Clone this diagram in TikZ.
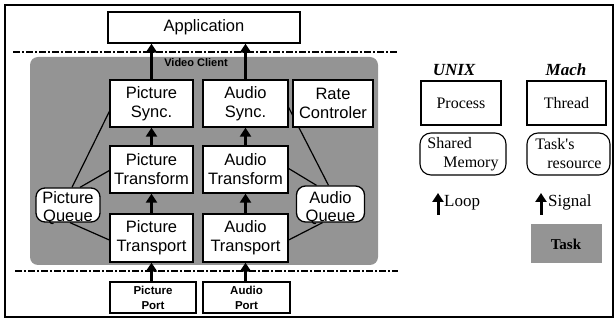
\documentclass[tikz,border=0pt]{standalone}
\usepackage{fontspec}
\setmainfont{Liberation Sans}
\newfontfamily\legendfont{Liberation Serif}
\usetikzlibrary{arrows.meta}
\pgfdeclarelayer{shadelayer}
\pgfdeclarelayer{connlayer}
\pgfsetlayers{shadelayer,connlayer,main}
\begin{document}
\begin{tikzpicture}[x=1pt,y=-1pt,
  box/.style={draw, fill=white, line width=1.3pt, inner sep=0pt, align=center,
    font=\fontsize{16.5}{19}\selectfont},
  portbox/.style={box, font=\fontsize{11.5}{15}\selectfont\bfseries},
  queuebox/.style={box, rounded corners=9pt},
  qtext/.style={inner sep=0pt, align=center, font=\fontsize{16.5}{18}\selectfont},
  legbox/.style={draw, fill=white, line width=1.1pt, inner sep=0pt,
    font=\legendfont\fontsize{16}{19}\selectfont},
  legtitle/.style={font=\legendfont\bfseries\itshape\fontsize{17}{20}\selectfont},
  legtext/.style={font=\legendfont\fontsize{17}{20}\selectfont, inner sep=0pt},
  sig/.style={line width=3pt, -{Triangle[width=11pt,length=9pt]}},
  conn/.style={line width=1.2pt},
  sepline/.style={line width=1.1pt, dash pattern=on 7pt off 2pt on 2pt off 2pt},
  shade/.style={fill=black!42}
]
\useasboundingbox (0,0) rectangle (616,320);
\draw[line width=1.2pt] (5,5) rectangle (613,317);

% video client region
\begin{pgfonlayer}{shadelayer}
\fill[shade, rounded corners=8pt] (30,57) rectangle (378,265);
\end{pgfonlayer}
\node[font=\fontsize{11}{13}\selectfont\bfseries, inner sep=0pt] (vc) at (196,63) {Video Client};

% separator lines
\draw[sepline] (13,52) -- (398,52);
\draw[sepline] (15,271) -- (398,271);

% nodes
\node[box, minimum width=192pt, minimum height=31pt] (app) at (204,27.5) {Application};
\node[box, minimum width=83pt, minimum height=47pt] (psy) at (151.5,103.5) {Picture\\Sync.};
\node[box, minimum width=85pt, minimum height=47pt] (asy) at (245.5,103.5) {Audio\\Sync.};
\node[box, minimum width=80pt, minimum height=47pt] (rate) at (333,103.5) {Rate\\Controler};
\node[box, minimum width=83pt, minimum height=47pt] (ptf) at (151.5,169.5) {Picture\\Transform};
\node[box, minimum width=85pt, minimum height=47pt] (atf) at (245.5,169.5) {Audio\\Transform};
\node[box, minimum width=83pt, minimum height=48pt] (ptp) at (151.5,238) {Picture\\Transport};
\node[box, minimum width=85pt, minimum height=48pt] (atp) at (245.5,238) {Audio\\Transport};
\node[portbox, minimum width=86pt, minimum height=31pt] (ppo) at (153,297.5) {Picture\\Port};
\node[portbox, minimum width=87pt, minimum height=31pt] (apo) at (246.5,297.5) {Audio\\Port};
\node[queuebox, minimum width=64pt, minimum height=34pt] (pq) at (68,205) {};
\node[qtext] (pqt) at (68,208) {Picture\\Queue};
\node[queuebox, minimum width=68pt, minimum height=36pt] (aq) at (330.5,204) {};
\node[qtext] (aqt) at (330.5,208) {Audio\\Queue};

% vertical signal arrows
\draw[sig] (psy.north) -- (psy.north |- app.south);
\draw[sig] (asy.north) -- (asy.north |- app.south);
\draw[sig] (ptf.north) -- (psy.south);
\draw[sig] (atf.north) -- (asy.south);
\draw[sig] (ptp.north) -- (ptf.south);
\draw[sig] (atp.north) -- (atf.south);
\draw[sig] (ppo.north -| ptp.south) -- (ptp.south);
\draw[sig] (apo.north -| atp.south) -- (atp.south);

% queue connectors
\begin{pgfonlayer}{connlayer}
\draw[conn] ([xshift=4pt]pq.north) -- ([yshift=-8pt]psy.west);
\draw[conn] ([xshift=12pt]pq.north) -- ([yshift=-1pt]ptf.west);
\draw[conn] ([xshift=2pt]pq.south) -- ([yshift=-2pt]ptp.west);
\draw[conn] ([xshift=-2pt]aq.north) -- ([yshift=-4pt]asy.east);
\draw[conn] ([xshift=-14pt]aq.north) -- ([yshift=1pt]atf.east);
\draw[conn] ([xshift=-8pt]aq.south) -- ([yshift=-2pt]atp.east);
\end{pgfonlayer}

% legend
\node[legtitle] (unix) at (454,70) {UNIX};
\node[legtitle] (mach) at (566,70) {Mach};
\node[legbox, minimum width=80pt, minimum height=44pt] (proc) at (461,103) {Process};
\node[legbox, minimum width=79pt, minimum height=44pt] (thr) at (566.5,103) {Thread};
\node[legbox, rounded corners=11pt, minimum width=86pt, minimum height=42pt, align=left] (shm) at (463,154) {Shared\\\hspace*{16pt}Memory};
\node[legbox, rounded corners=11pt, minimum width=83pt, minimum height=42pt, align=left] (tres) at (568.5,154) {Task's\\\hspace*{12pt}resource};

\coordinate (lp) at (438,215);
\draw[sig] (lp) -- ++(0,-22);
\node[legtext, anchor=west] (looptxt) at (444,203) {Loop};
\coordinate (sg) at (541,215);
\draw[sig] (sg) -- ++(0,-22);
\node[legtext, anchor=west] (sigtxt) at (548,202) {Signal};

\fill[shade] (531,224) rectangle (602,263);
\node[legtext, font=\legendfont\bfseries\fontsize{15}{17}\selectfont] (task) at (566,244) {Task};
\end{tikzpicture}
\end{document}
